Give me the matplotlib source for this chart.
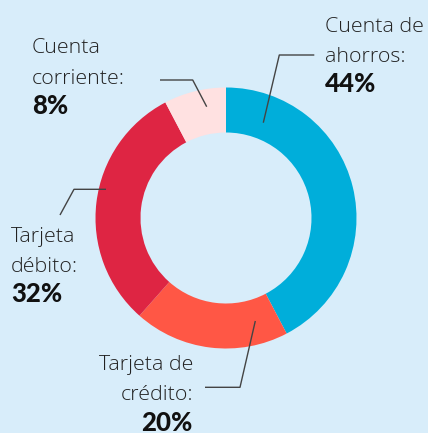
import matplotlib
matplotlib.use("Agg")
import matplotlib.pyplot as plt
import numpy as np

categories = ["Cuenta de\nahorros:", "Tarjeta de\ncrédito:", "Tarjeta\ndébito:", "Cuenta\ncorriente:"]
values = [44, 20, 32, 8]
pct_labels = ["44%", "20%", "32%", "8%"]
colors = ["#00AEDA", "#FF5745", "#DE2543", "#FFE1E1"]

BG = "#D8EDFA"
W, H = 428, 433
fig = plt.figure(figsize=(W / 100, H / 100), dpi=100, facecolor=BG)
ax = fig.add_axes([0, 0, 1, 1])
ax.set_facecolor(BG)

cx, cy = 226, H - 218
R = 130.5
ax.pie(values, colors=colors, startangle=90, counterclock=False,
       center=(cx, cy), radius=R, frame=True,
       wedgeprops=dict(width=45, linewidth=0))
ax.set_xlim(0, W)
ax.set_ylim(0, H)
ax.set_aspect("equal")
ax.axis("off")

fam = ["Open Sans", "DejaVu Sans"]
famb = ["Lato", "DejaVu Sans"]
fs = 15.4
fsb = 18.5
txtc = "#222222"
lc = "#444444"

# label layout: (x, baseline y of first line in image px, ha)
layout = {
    0: (325, 31.7, "left"),
    1: (193, 370, "right"),
    2: (11, 241.7, "left"),
    3: (32, 53.3, "left"),
}
leaders = {
    0: [(263.3, 122.7), (279.3, 55), (314.3, 55)],
    1: [(255.3, 321), (240, 387.3), (205, 387.3)],
    2: [(106, 189.3), (74, 189.3), (60, 215)],
    3: [(206.7, 106.7), (192.7, 80), (160, 80)],
}
step = 30.3
for i, (cat, pct) in enumerate(zip(categories, pct_labels)):
    x, yb, ha = layout[i]
    lines = cat.split("\n")
    for j, ln in enumerate(lines):
        ax.text(x, H - (yb + j * step), ln, ha=ha, va="baseline",
                fontsize=fs, family=fam, weight="light", color=txtc)
    ax.text(x, H - (yb + len(lines) * step), pct, ha=ha, va="baseline",
            fontsize=fsb, family=famb, weight="black", color="#111111")
    pts = leaders[i]
    ax.plot([p[0] for p in pts], [H - p[1] for p in pts], color=lc, lw=1.0,
            solid_capstyle="butt")

fig.savefig("out.png", dpi=100, facecolor=BG)
